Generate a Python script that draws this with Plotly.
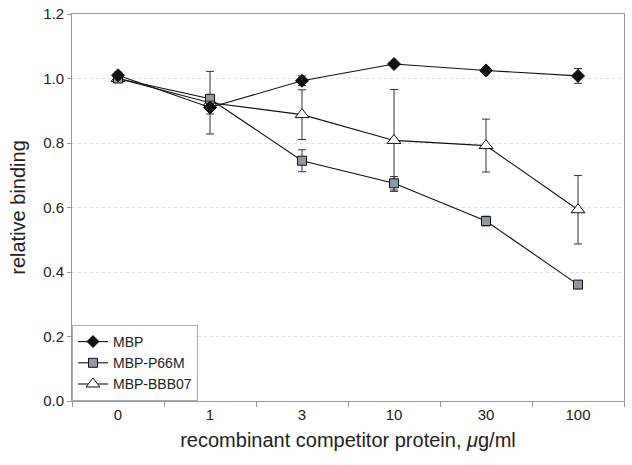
import plotly.graph_objects as go

categories = ["0", "1", "3", "10", "30", "100"]

mbp = [1.01, 0.91, 0.993, 1.045, 1.025, 1.008]
mbp_err = [0.01, 0.02, 0.015, 0.0, 0.01, 0.023]

p66m = [1.0, 0.937, 0.745, 0.675, 0.558, 0.361]
p66m_err = [0.0, 0.0, 0.034, 0.021, 0.015, 0.0]

bbb07 = [1.0, 0.925, 0.888, 0.808, 0.792, 0.593]
bbb07_err = [0.0, 0.097, 0.077, 0.158, 0.082, 0.106]

y_ticks = [0.0, 0.2, 0.4, 0.6, 0.8, 1.0, 1.2]
y_ticklabels = ["0.0", "0.2", "0.4", "0.6", "0.8", "1.0", "1.2"]

font_family = "Liberation Sans, Arial, sans-serif"
err_style = dict(type="data", visible=True, color="#333333", thickness=1, width=4)

fig = go.Figure()
fig.add_trace(go.Scatter(
    x=categories, y=bbb07, name="MBP-BBB07", mode="lines+markers",
    line=dict(color="#111111", width=1.1),
    marker=dict(symbol="triangle-up", size=12, color="white", line=dict(color="#111111", width=1)),
    error_y=dict(array=bbb07_err, **err_style), showlegend=False,
))
fig.add_trace(go.Scatter(
    x=categories, y=p66m, name="MBP-P66M", mode="lines+markers",
    line=dict(color="#111111", width=1.1),
    marker=dict(symbol="square", size=9, color="#8a9ba8", line=dict(color="#111111", width=1)),
    error_y=dict(array=p66m_err, **err_style), showlegend=False,
))
fig.add_trace(go.Scatter(
    x=categories, y=mbp, name="MBP", mode="lines+markers",
    line=dict(color="#111111", width=1.1),
    marker=dict(symbol="diamond", size=10, color="#111111", line=dict(color="#111111", width=1)),
    error_y=dict(array=mbp_err, **err_style), showlegend=False,
))
# legend entries in reference order
fig.add_trace(go.Scatter(
    x=[None], y=[None], name="MBP", mode="lines+markers",
    line=dict(color="#111111", width=1.1),
    marker=dict(symbol="diamond", size=10, color="#111111"),
))
fig.add_trace(go.Scatter(
    x=[None], y=[None], name="MBP-P66M", mode="lines+markers",
    line=dict(color="#111111", width=1.1),
    marker=dict(symbol="square", size=9, color="#8a9ba8", line=dict(color="#111111", width=1)),
))
fig.add_trace(go.Scatter(
    x=[None], y=[None], name="MBP-BBB07", mode="lines+markers",
    line=dict(color="#111111", width=1.1),
    marker=dict(symbol="triangle-up", size=12, color="white", line=dict(color="#111111", width=1)),
))

fig.update_layout(
    width=632, height=465,
    margin=dict(l=72, r=8, t=14, b=64),
    paper_bgcolor="white", plot_bgcolor="white",
    font=dict(family=font_family, size=15, color="#222222"),
    legend=dict(
        x=0, y=0, xanchor="left", yanchor="bottom",
        bgcolor="white", bordercolor="#aaaaaa", borderwidth=1,
        font=dict(size=14, color="#222222"), tracegroupgap=0,
        itemwidth=30,
    ),
    xaxis=dict(
        type="category", categoryorder="array", categoryarray=categories,
        range=[-0.5, 5.5], automargin=False,
        showline=True, linecolor="#999999", linewidth=1, mirror=True,
        ticks="outside", ticklen=5, tickcolor="#999999", tickson="boundaries",
        showgrid=False, zeroline=False,
        tickfont=dict(size=15),
        title=dict(text="recombinant competitor protein, <i>μ</i>g/ml", font=dict(size=20), standoff=10),
    ),
    yaxis=dict(
        range=[0, 1.2], tickvals=y_ticks, ticktext=y_ticklabels, automargin=False,
        showline=True, linecolor="#999999", linewidth=1, mirror=True,
        ticks="outside", ticklen=4, tickcolor="#999999",
        showgrid=True, gridcolor="#dddddd", griddash="dot", gridwidth=1,
        zeroline=False,
        tickfont=dict(size=15),
        title=dict(text="relative binding", font=dict(size=20), standoff=12),
    ),
)

fig.write_html(
    "out.html",
    config={"displayModeBar": False},
    post_script="document.body.style.margin='0';document.body.style.padding='0';",
)
